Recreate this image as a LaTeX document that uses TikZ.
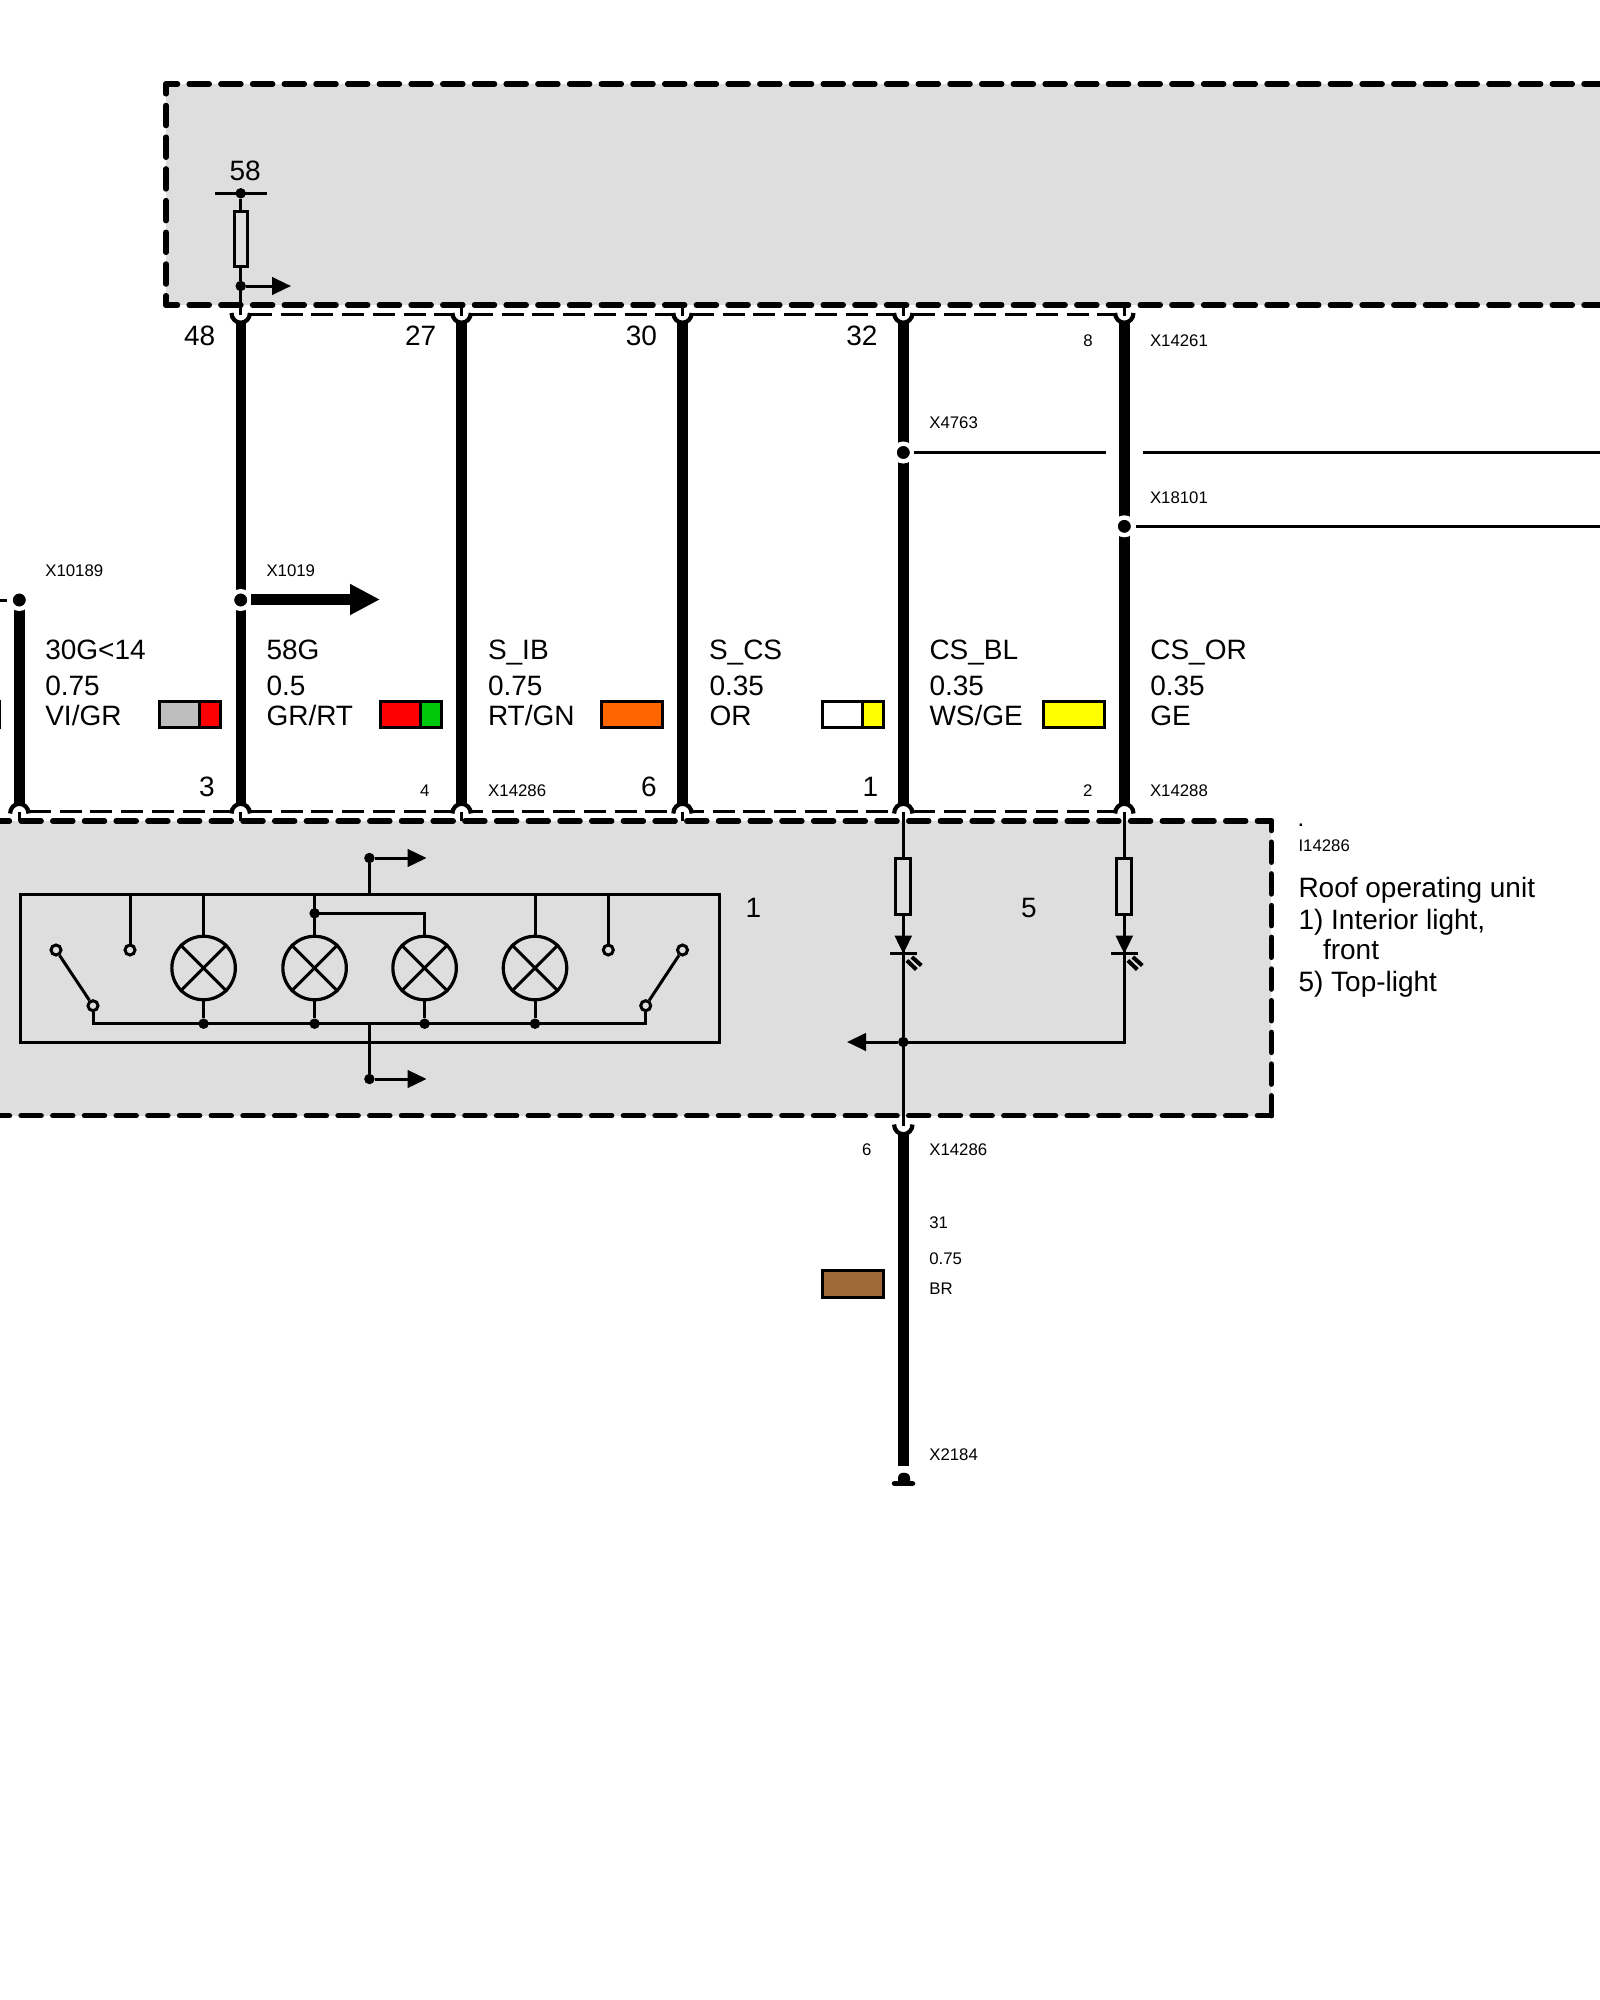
\documentclass[tikz,border=0pt]{standalone}
\usepackage{fontspec}
\setmainfont{Liberation Sans}
\usetikzlibrary{arrows.meta,calc}
\definecolor{boxgrey}{HTML}{DEDEDE}
\definecolor{wgrey}{HTML}{BEBEBE}
\definecolor{wred}{HTML}{FF0000}
\definecolor{wgreen}{HTML}{00C80A}
\definecolor{worange}{HTML}{FF6600}
\definecolor{wyellow}{HTML}{FFFF00}
\definecolor{wbrown}{HTML}{A06A38}
\tikzset{
  x=1pt,y=-1pt,
  big/.style={anchor=base west,inner sep=0pt,outer sep=0pt,font=\fontsize{28}{30}\selectfont},
  small/.style={anchor=base west,inner sep=0pt,outer sep=0pt,font=\fontsize{16.8}{18}\selectfont},
  wirethick/.style={line width=10.4pt},
  wirethin/.style={line width=3pt},
  cupline/.style={line width=4.2pt},
  boxdash/.style={line width=5.5pt,line cap=round,dash pattern=on 20pt off 11.7pt},
  conndash/.style={line width=3pt,dash pattern=on 22pt off 8.7pt},
  smalldot/.style={circle,fill=black,inner sep=0pt,minimum size=10.5pt},
  haldot/.style={circle,fill=black,draw=white,line width=4.4pt,inner sep=0pt,minimum size=17.6pt},
  contact/.style={circle,fill=boxgrey,draw=black,line width=3pt,inner sep=0pt,minimum size=10pt},
  lamp/.style={circle,draw=black,line width=3.2pt,inner sep=0pt,minimum size=63.5pt},
  fuse/.style={rectangle,fill=boxgrey,draw=black,line width=3pt,inner sep=0pt},
  arr/.style={wirethin,-{Triangle[length=19pt,width=17.4pt]}},
  swatch/.style={draw=black,line width=3pt},
}
\newcommand{\lbl}[5]{\node[#1] (#2) at (#3,#4) {#5};}
% cup opening downward (wire comes from above): arc above the centre
\newcommand{\cupabove}[2]{\draw[cupline] (#1-9.2,#2+1) .. controls (#1-9.2,#2-4.5) and (#1-5,#2-8.7) .. (#1,#2-8.7) .. controls (#1+5,#2-8.7) and (#1+9.2,#2-4.5) .. (#1+9.2,#2+1);}
% cup opening upward (wire goes down): arc below the centre
\newcommand{\cupbelow}[2]{\draw[cupline] (#1-9.2,#2-1) .. controls (#1-9.2,#2+4.5) and (#1-5,#2+8.7) .. (#1,#2+8.7) .. controls (#1+5,#2+8.7) and (#1+9.2,#2+4.5) .. (#1+9.2,#2-1);}
\newcommand{\ledsym}[1]{%
  \fill (#1-8.8,935.7) -- (#1+8.8,935.7) -- (#1,953.5) -- cycle;
  \draw[wirethin] (#1-13.3,953.3) -- (#1+13.3,953.3);
  \draw[line width=4pt] (#1+3.6,960.5) -- (#1+13,969.5);
  \draw[line width=4pt] (#1+8.6,957) -- (#1+18,965.5);
}
\begin{document}
\begin{tikzpicture}
\useasboundingbox (0,0) rectangle (1600,2000);
\clip (0,0) rectangle (1600,2000);
\fill[white] (0,0) rectangle (1600,2000);

% ---- grey module boxes ----
\fill[boxgrey] (166,84) rectangle (1620,305);
\draw[boxdash,dash phase=8.5pt] (166,84) -- (1620,84);
\draw[boxdash,dash phase=8.5pt] (166,305) -- (1620,305);
\draw[boxdash,dash phase=10.2pt] (166,84) -- (166,305);
\fill[boxgrey] (-20,821) rectangle (1271.4,1115.7);
\draw[boxdash,dash phase=6pt] (1271.4,821) -- (-20,821);
\draw[boxdash,dash phase=6pt] (1271.4,1115.7) -- (-20,1115.7);
\draw[boxdash,dash phase=10.5pt] (1271.4,821) -- (1271.4,1115.7);

% ---- connector housings (thin dashes) ----
\draw[conndash] (250,314) -- (452,314);
\draw[conndash] (471,314) -- (673,314);
\draw[conndash] (692,314) -- (894,314);
\draw[conndash] (913,314) -- (1115,314);
\draw[conndash] (29,811.7) -- (231,811.7);
\draw[conndash] (250,811.7) -- (452,811.7);
\draw[conndash,dash phase=10pt] (471,811.7) -- (673,811.7);
\draw[conndash,dash phase=10pt] (692,811.7) -- (894,811.7);
\draw[conndash] (913,811.7) -- (1115,811.7);

% ---- named wire points ----
\coordinate (aT) at (240.7,323); \coordinate (aB) at (240.7,804);
\coordinate (bT) at (461.6,323); \coordinate (bB) at (461.6,804);
\coordinate (cT) at (682.5,323); \coordinate (cB) at (682.5,804);
\coordinate (dT) at (903.3,323); \coordinate (dB) at (903.3,804);
\coordinate (eT) at (1124.3,323); \coordinate (eB) at (1124.3,804);
\coordinate (zB) at (19.3,804);

% ---- thick wires ----
\draw[wirethick] (aT) -- (aB);
\draw[wirethick] (bT) -- (bB);
\draw[wirethick] (cT) -- (cB);
\draw[wirethick] (dT) -- (dB);
\draw[wirethick] (eT) -- (eB);
\draw[wirethick] (19.3,600) -- (zB);

% ---- cups ----
\cupbelow{240.7}{314}\cupbelow{461.6}{314}\cupbelow{682.5}{314}\cupbelow{903.3}{314}\cupbelow{1124.3}{314}
\cupabove{19.3}{812.5}\cupabove{240.7}{812.5}\cupabove{461.6}{812.5}\cupabove{682.5}{812.5}\cupabove{903.3}{812.5}\cupabove{1124.3}{812.5}
\cupbelow{903.3}{1125.5}

% ---- stubs at connectors ----
\draw[wirethin] (461.6,305) -- (461.6,316);
\draw[wirethin] (682.5,305) -- (682.5,316);
\draw[wirethin] (903.3,305) -- (903.3,316);
\draw[wirethin] (1124.3,305) -- (1124.3,316);
\draw[wirethin] (19.3,812) -- (19.3,821);
\draw[wirethin] (240.7,812) -- (240.7,821);
\draw[wirethin] (461.6,812) -- (461.6,821);
\draw[wirethin] (682.5,812) -- (682.5,821);

% ---- top module: terminal 58 ----
\node[smalldot] (t58) at (240.7,193.3) {};
\coordinate (t58L) at (215,193.3);
\coordinate (t58R) at (266.7,193.3);
\draw[wirethin] (t58L) -- (t58R);
\node[fuse,minimum width=13pt,minimum height=55.5pt] (f58) at (240.7,239) {};
\node[smalldot] (j58) at (240.7,286) {};
\coordinate (j58s) at (240.7,315);
\coordinate (j58t) at (291,286);
\draw[wirethin] (t58) -- (f58);
\draw[wirethin] (f58) -- (j58);
\draw[wirethin] (j58.center) -- (j58s);
\draw[arr] (j58) -- (j58t);

% ---- splices with halos ----
\coordinate (x1L) at (0,600);
\coordinate (x1R) at (7,600);
\draw[wirethin] (x1L) -- (x1R);
\node[haldot] (jz) at (19.3,600) {};
\node[haldot] (jx1019) at (240.7,600) {};
\coordinate (x1019s) at (251,599.5);
\coordinate (x1019t) at (380,599.5);
\draw[wirethick,-{Triangle[length=30pt,width=29pt]}] (x1019s) -- (x1019t);
\node[haldot] (jx4763) at (903.3,452.5) {};
\coordinate (x47a) at (914.3,452.3);
\coordinate (x47b) at (1106,452.3);
\coordinate (x47c) at (1143,452.3);
\coordinate (x47d) at (1600,452.3);
\draw[wirethin] (x47a) -- (x47b);
\draw[wirethin] (x47c) -- (x47d);
\node[haldot] (jx18101) at (1124.3,526.3) {};
\coordinate (x18a) at (1136,526.3);
\coordinate (x18b) at (1600,526.3);
\draw[wirethin] (x18a) -- (x18b);

% ---- colour swatches ----
\draw[swatch] (-40,701.3) rectangle (-0.3,727.7);
\fill[wgrey] (159.3,701.3) rectangle (199.7,727.7);
\fill[wred] (199.7,701.3) rectangle (220,727.7);
\draw[swatch] (159.3,701.3) rectangle (220,727.7);
\draw[swatch] (199.7,701.3) -- (199.7,727.7);
\fill[wred] (380.3,701.3) rectangle (420.5,727.7);
\fill[wgreen] (420.5,701.3) rectangle (441,727.7);
\draw[swatch] (380.3,701.3) rectangle (441,727.7);
\draw[swatch] (420.5,701.3) -- (420.5,727.7);
\draw[swatch,fill=worange] (601.3,701.3) rectangle (662,727.7);
\fill[white] (822.3,701.3) rectangle (862,727.7);
\fill[wyellow] (862,701.3) rectangle (883,727.7);
\draw[swatch] (822.3,701.3) rectangle (883,727.7);
\draw[swatch] (862,701.3) -- (862,727.7);
\draw[swatch,fill=wyellow] (1043.3,701.3) rectangle (1104,727.7);
\draw[swatch,fill=wbrown] (822.3,1270.3) rectangle (883,1297.7);

% ---- interior light unit ----
\node[rectangle,draw=black,line width=3pt,inner sep=0pt,minimum width=699pt,minimum height=147.5pt] (unit) at (369.6,968.3) {};
\node[lamp] (l1) at (203.6,968) {};
\node[lamp] (l2) at (314.6,968) {};
\node[lamp] (l3) at (424.6,968) {};
\node[lamp] (l4) at (535,968) {};
\foreach \n in {l1,l2,l3,l4}{
  \draw[line width=3pt] (\n.45) -- (\n.225);
  \draw[line width=3pt] (\n.135) -- (\n.315);
}
\draw[wirethin] (l1.north) -- (l1.north |- unit.north);
\draw[wirethin] (l2.north) -- (l2.north |- unit.north);
\draw[wirethin] (l4.north) -- (l4.north |- unit.north);
\node[smalldot] (j23) at (314.6,913.3) {};
\coordinate (j23c) at (424.6,913.3);
\draw[wirethin] (j23.center) -- (j23c) -- (l3.north);

\node[contact] (c1) at (56,950) {};
\node[contact] (c2) at (93,1005.7) {};
\node[contact] (c3) at (130,950) {};
\node[contact] (c4) at (608.3,950) {};
\node[contact] (c5) at (682.5,950) {};
\node[contact] (c6) at (645.7,1005.7) {};
\draw[wirethin] (c1) -- (c2);
\draw[wirethin] (c5) -- (c6);
\draw[wirethin] (c3) -- (c3 |- unit.north);
\draw[wirethin] (c4) -- (c4 |- unit.north);
\coordinate (busL) at (93,1023.7);
\coordinate (busR) at (645.7,1023.7);
\draw[wirethin] (c2) -- (busL) -- (busR) -- (c6);
\node[smalldot] (b1) at (203.6,1023.7) {};
\node[smalldot] (b2) at (314.6,1023.7) {};
\node[smalldot] (b3) at (424.6,1023.7) {};
\node[smalldot] (b4) at (535,1023.7) {};
\draw[wirethin] (l1) -- (b1);
\draw[wirethin] (l2) -- (b2);
\draw[wirethin] (l3) -- (b3);
\draw[wirethin] (l4) -- (b4);

\node[smalldot] (dt) at (369.4,858) {};
\coordinate (dtt) at (426.6,858);
\draw[wirethin] (unit.north -| dt) -- (dt);
\draw[arr] (dt) -- (dtt);
\node[smalldot] (db) at (369.4,1079) {};
\coordinate (dbt) at (426.6,1079);
\coordinate (dbs) at (369.4,1023.7);
\draw[wirethin] (dbs) -- (db);
\draw[arr] (db) -- (dbt);

% ---- top-light unit ----
\coordinate (dS) at (903.3,812);
\coordinate (eS) at (1124.3,812);
\node[fuse,minimum width=15pt,minimum height=56pt] (fd) at (903.3,886.5) {};
\node[fuse,minimum width=15pt,minimum height=56pt] (fe) at (1124.3,886.5) {};
\coordinate (ledd) at (903.3,950);
\coordinate (lede) at (1124.3,950);
\draw[wirethin] (dS) -- (fd);
\draw[wirethin] (eS) -- (fe);
\draw[wirethin] (fd) -- (ledd);
\draw[wirethin] (fe) -- (lede);
\node[smalldot] (jg) at (903.3,1042) {};
\coordinate (egc) at (1124.3,1042);
\coordinate (jgt) at (847,1042);
\coordinate (wgs) at (903.3,1126);
\draw[wirethin] (ledd) -- (jg);
\draw[wirethin] (jg.center) -- (wgs);
\draw[wirethin] (lede) -- (egc) -- (jg.center);
\draw[arr] (jg) -- (jgt);
\ledsym{903.3}
\ledsym{1124.3}

% ---- ground wire ----
\coordinate (gwT) at (903.3,1134);
\coordinate (gwB) at (903.3,1466);
\draw[wirethick] (gwT) -- (gwB);
\fill (898,1482) -- (898,1478) .. controls (898,1474.5) and (900.5,1472.7) .. (903.8,1472.7) .. controls (907.5,1472.7) and (910,1474.5) .. (910,1478) -- (910,1482) -- cycle;
\draw[line width=5.5pt,line cap=round] (894.5,1483.5) -- (912.5,1483.5);

% ---- texts: top ----
\lbl{big}{n58}{229.5}{180}{58}
\lbl{big}{n48}{184}{345.7}{48}
\lbl{big}{n27}{405}{345.7}{27}
\lbl{big}{n30}{625.8}{345.7}{30}
\lbl{big}{n32}{846.3}{345.7}{32}
\lbl{small}{n8}{1083.3}{346}{8}
\lbl{small}{xa}{1150}{346}{X14261}
\lbl{small}{xb}{929.3}{428}{X4763}
\lbl{small}{xc}{1150}{503.5}{X18101}
\lbl{small}{xd}{45.3}{576}{X10189}
\lbl{small}{xe}{266.5}{576}{X1019}

% ---- texts: wire data ----
\lbl{big}{s1}{45.3}{659.2}{30G<14}
\lbl{big}{a1}{45.3}{695.8}{0.75}
\lbl{big}{c1t}{45.3}{725}{VI/GR}
\lbl{big}{s2}{266.5}{659.2}{58G}
\lbl{big}{a2}{266.5}{695.8}{0.5}
\lbl{big}{c2t}{266.5}{725}{GR/RT}
\lbl{big}{s3}{488}{659.2}{S\_IB}
\lbl{big}{a3}{488}{695.8}{0.75}
\lbl{big}{c3t}{488}{725}{RT/GN}
\lbl{big}{s4}{709}{659.2}{S\_CS}
\lbl{big}{a4}{709.5}{695.8}{0.35}
\lbl{big}{c4t}{709.5}{725}{OR}
\lbl{big}{s5}{929.5}{659.2}{CS\_BL}
\lbl{big}{a5}{929.5}{695.8}{0.35}
\lbl{big}{c5t}{929.5}{725}{WS/GE}
\lbl{big}{s6}{1150.3}{659.2}{CS\_OR}
\lbl{big}{a6}{1150.3}{695.8}{0.35}
\lbl{big}{c6t}{1150.3}{725}{GE}

% ---- texts: lower connectors ----
\lbl{big}{p3}{199}{796}{3}
\lbl{small}{p4}{420}{796.7}{4}
\lbl{small}{xf}{488.2}{796.7}{X14286}
\lbl{big}{p6}{641}{796}{6}
\lbl{big}{p1}{862.5}{796}{1}
\lbl{small}{p2}{1083}{796.7}{2}
\lbl{small}{xg}{1150}{796.7}{X14288}
\lbl{big}{u1}{745.5}{917}{1}
\lbl{big}{u5}{1021}{917}{5}

% ---- texts: right legend ----
\lbl{small}{dotm}{1298.5}{826.7}{\textbf{.}}
\lbl{small}{id}{1298.5}{851.7}{I14286}
\lbl{big}{ln1}{1298.5}{897.7}{Roof operating unit}
\lbl{big}{ln2}{1298.5}{929}{1) Interior light,}
\lbl{big}{ln3}{1323}{959}{front}
\lbl{big}{ln4}{1298.5}{991}{5) Top-light}

% ---- texts: ground wire ----
\lbl{small}{p6b}{862}{1155.7}{6}
\lbl{small}{xh}{929.3}{1155.7}{X14286}
\lbl{small}{g1}{929.3}{1228}{31}
\lbl{small}{g2}{929.3}{1264}{0.75}
\lbl{small}{g3}{929.3}{1294}{BR}
\lbl{small}{xi}{929.3}{1460}{X2184}
\end{tikzpicture}
\end{document}
